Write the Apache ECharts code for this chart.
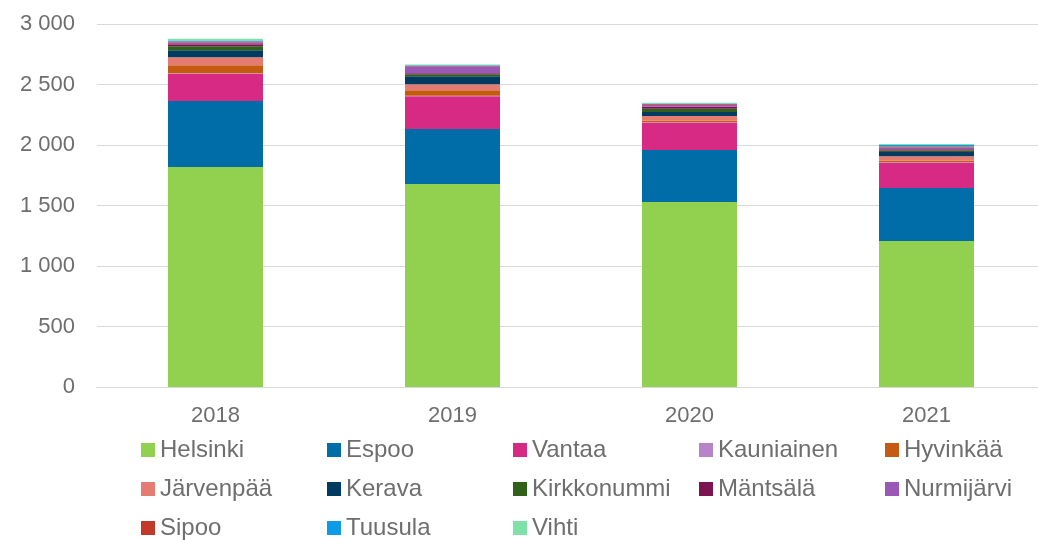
<!DOCTYPE html>
<html>
<head>
<meta charset="utf-8">
<script src="https://cdn.jsdelivr.net/npm/echarts@6/dist/echarts.min.js"></script>
<style>
  html, body { margin: 0; padding: 0; background: #fff; }
  #chart { width: 1038px; height: 540px; }
</style>
</head>
<body>
<div id="chart"></div>
<script>
const years = ['2018', '2019', '2020', '2021']

const helsinki = [1818, 1678, 1529, 1207]
const espoo = [546, 454, 430, 438]
const vantaa = [225, 270, 225, 209]
const kauniainen = [5, 4, 5, 4]
const hyvinkaa = [66, 46, 14, 14]
const jarvenpaa = [66, 50, 36, 36]
const kerava = [58, 66, 33, 35]
const kirkkonummi = [33, 17, 28, 12]
const mantsala = [16, 8, 16, 10]
const nurmijarvi = [15, 58, 17, 15]
const sipoo = [8, 4, 5, 8]
const tuusula = [8, 4, 6, 12]
const vihti = [15, 6, 6, 8]

const COLORS = {
  Helsinki: '#92d050',
  Espoo: '#006ca8',
  Vantaa: '#d62a85',
  Kauniainen: '#b884c8',
  'Hyvinkää': '#c55a11',
  'Järvenpää': '#e57c72',
  Kerava: '#003b61',
  Kirkkonummi: '#2f6118',
  'Mäntsälä': '#7b1450',
  'Nurmijärvi': '#9b59b6',
  Sipoo: '#c0392b',
  Tuusula: '#0e9ae6',
  Vihti: '#7ee2a8',
}

const seriesData = [
  ['Helsinki', helsinki],
  ['Espoo', espoo],
  ['Vantaa', vantaa],
  ['Kauniainen', kauniainen],
  ['Hyvinkää', hyvinkaa],
  ['Järvenpää', jarvenpaa],
  ['Kerava', kerava],
  ['Kirkkonummi', kirkkonummi],
  ['Mäntsälä', mantsala],
  ['Nurmijärvi', nurmijarvi],
  ['Sipoo', sipoo],
  ['Tuusula', tuusula],
  ['Vihti', vihti],
]

const textColor = '#6e6e6e'
const fmt = v => String(v).replace(/\B(?=(\d{3})+(?!\d))/g, ' ')

// one legend per item, laid out in a 5-column grid like the original
const legends = seriesData.map(([name], i) => ({
  data: [name],
  left: 141 + (i % 5) * 186,
  top: 438 + Math.floor(i / 5) * 39,
  padding: 0,
  icon: 'rect',
  itemWidth: 14,
  itemHeight: 14,
  textStyle: { color: textColor, fontSize: 24, lineHeight: 24 },
}))

const chart = echarts.init(document.getElementById('chart'), null, { renderer: 'canvas' })

chart.setOption({
  animation: false,
  textStyle: { fontFamily: 'Liberation Sans, Arial, sans-serif' },
  grid: { left: 97, top: 24, width: 948, height: 363, outerBoundsMode: 'none', containLabel: false },
  xAxis: {
    type: 'category',
    data: years,
    axisTick: { show: false },
    axisLine: { lineStyle: { color: '#d9d9d9', width: 1 } },
    axisLabel: { color: textColor, fontSize: 22, margin: 18 },
  },
  yAxis: {
    type: 'value',
    min: 0,
    max: 3000,
    interval: 500,
    axisLine: { show: false },
    axisTick: { show: false },
    splitLine: { lineStyle: { color: '#d9d9d9', width: 1 } },
    axisLabel: { color: textColor, fontSize: 22, margin: 22, formatter: fmt },
  },
  legend: legends,
  series: seriesData.map(([name, values]) => ({
    name,
    type: 'bar',
    stack: 'total',
    barWidth: 95,
    data: values,
    itemStyle: { color: COLORS[name] },
  })),
})
</script>
</body>
</html>
